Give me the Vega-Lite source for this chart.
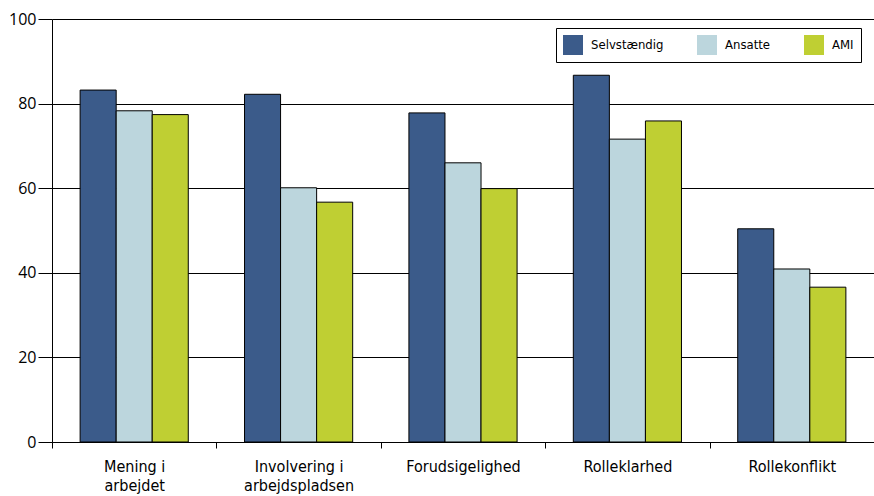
{
  "$schema": "https://vega.github.io/schema/vega-lite/v6.json",
  "width": 822,
  "height": 423,
  "autosize": "none",
  "padding": {"left": 52, "top": 19, "right": 0, "bottom": 54},
  "background": "white",
  "config": {
    "view": {"stroke": null},
    "axis": {"labelColor": "black", "domainColor": "black", "tickColor": "black"}
  },
  "data": {
    "values": [
      {"kategori": "Mening i arbejdet", "gruppe": "Selvstændig", "vaerdi": 83.2},
      {"kategori": "Mening i arbejdet", "gruppe": "Ansatte", "vaerdi": 78.3},
      {"kategori": "Mening i arbejdet", "gruppe": "AMI", "vaerdi": 77.4},
      {"kategori": "Involvering i arbejdspladsen", "gruppe": "Selvstændig", "vaerdi": 82.2},
      {"kategori": "Involvering i arbejdspladsen", "gruppe": "Ansatte", "vaerdi": 60.1},
      {"kategori": "Involvering i arbejdspladsen", "gruppe": "AMI", "vaerdi": 56.7},
      {"kategori": "Forudsigelighed", "gruppe": "Selvstændig", "vaerdi": 77.8},
      {"kategori": "Forudsigelighed", "gruppe": "Ansatte", "vaerdi": 66.0},
      {"kategori": "Forudsigelighed", "gruppe": "AMI", "vaerdi": 59.9},
      {"kategori": "Rolleklarhed", "gruppe": "Selvstændig", "vaerdi": 86.7},
      {"kategori": "Rolleklarhed", "gruppe": "Ansatte", "vaerdi": 71.6},
      {"kategori": "Rolleklarhed", "gruppe": "AMI", "vaerdi": 75.9},
      {"kategori": "Rollekonflikt", "gruppe": "Selvstændig", "vaerdi": 50.4},
      {"kategori": "Rollekonflikt", "gruppe": "Ansatte", "vaerdi": 40.9},
      {"kategori": "Rollekonflikt", "gruppe": "AMI", "vaerdi": 36.6}
    ]
  },
  "mark": {"type": "bar", "stroke": "black", "strokeWidth": 1},
  "encoding": {
    "x": {
      "field": "kategori",
      "type": "nominal",
      "sort": null,
      "scale": {"paddingInner": 0, "paddingOuter": 0},
      "axis": {
        "title": null,
        "labelAngle": 0,
        "tickBand": "extent",
        "tickSize": 6,
        "labelPadding": 10,
        "labelFont": "Liberation Sans Narrow, DejaVu Sans Condensed, Roboto",
        "labelFontSize": 16,
        "labelLineHeight": 19,
        "labelExpr": "datum.label == 'Mening i arbejdet' ? ['Mening i', 'arbejdet'] : datum.label == 'Involvering i arbejdspladsen' ? ['Involvering i', 'arbejdspladsen'] : datum.label"
      }
    },
    "xOffset": {
      "field": "gruppe",
      "type": "nominal",
      "sort": ["Selvstændig", "Ansatte", "AMI"],
      "scale": {"paddingInner": 0, "paddingOuter": 0.78}
    },
    "y": {
      "field": "vaerdi",
      "type": "quantitative",
      "scale": {"domain": [0, 100], "nice": false},
      "axis": {
        "title": null,
        "values": [0, 20, 40, 60, 80, 100],
        "grid": true,
        "gridColor": "black",
        "gridOpacity": 1,
        "tickSize": 14,
        "labelPadding": 2,
        "labelFont": "Open Sans",
        "labelFontSize": 16
      }
    },
    "color": {
      "field": "gruppe",
      "type": "nominal",
      "scale": {
        "domain": ["Selvstændig", "Ansatte", "AMI"],
        "range": ["#3B5B8A", "#BCD6DD", "#BFCF33"]
      },
      "legend": {
        "title": null,
        "orient": "none",
        "legendX": 504,
        "legendY": 9,
        "direction": "horizontal",
        "strokeColor": "black",
        "fillColor": "white",
        "padding": 7,
        "symbolType": "square",
        "symbolSize": 400,
        "symbolStrokeWidth": 0,
        "symbolOpacity": 1,
        "labelFont": "Liberation Sans Narrow, DejaVu Sans Condensed, Roboto",
        "labelFontSize": 13,
        "labelColor": "black",
        "labelOffset": 8,
        "columnPadding": 33
      }
    }
  }
}
